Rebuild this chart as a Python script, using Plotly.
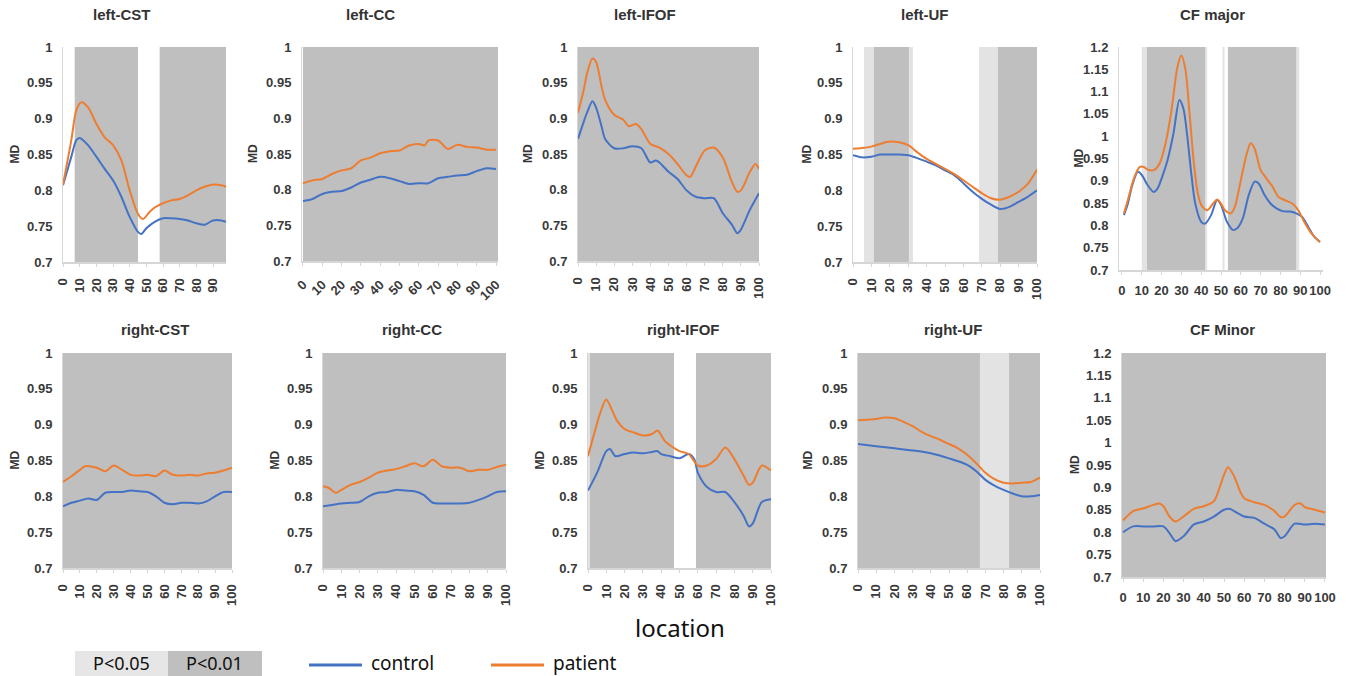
import plotly.graph_objects as go

W, H = 1346, 676

BLUE = "#4472C4"
ORANGE = "#ED7D31"
DARK = "#bfbfbf"
LIGHT = "#e3e3e3"
TXT = "#3a3a3a"

# ---------------- data ----------------
titles = ["left-CST", "left-CC", "left-IFOF", "left-UF", "CF major",
          "right-CST", "right-CC", "right-IFOF", "right-UF", "CF Minor"]

left_cst_ctrl_x = [0, 5, 8, 10, 15, 20, 25, 30, 35, 40, 45, 47, 50, 55, 60, 65, 70, 75, 80, 85, 90, 95, 98]
left_cst_ctrl = [0.807, 0.847, 0.870, 0.873, 0.863, 0.847, 0.830, 0.814, 0.791, 0.763, 0.742, 0.739, 0.747,
                 0.756, 0.761, 0.761, 0.760, 0.758, 0.754, 0.752, 0.758, 0.758, 0.756]
left_cst_pat_x = [0, 5, 8, 11, 15, 20, 25, 30, 35, 40, 45, 48, 52, 55, 60, 65, 70, 75, 80, 85, 90, 95, 98]
left_cst_pat = [0.808, 0.870, 0.912, 0.923, 0.916, 0.893, 0.874, 0.863, 0.842, 0.800, 0.767, 0.760, 0.770,
                0.776, 0.782, 0.786, 0.788, 0.793, 0.800, 0.805, 0.808, 0.807, 0.805]

left_cc_x = [0, 5, 10, 15, 20, 25, 30, 35, 40, 45, 50, 55, 60, 65, 70, 75, 80, 85, 90, 95, 100]
left_cc_ctrl = [0.784, 0.787, 0.794, 0.797, 0.798, 0.803, 0.810, 0.814, 0.818, 0.816, 0.812, 0.808, 0.809,
                0.809, 0.816, 0.818, 0.820, 0.821, 0.826, 0.830, 0.829]
left_cc_pat_x = [0, 5, 10, 15, 20, 25, 30, 35, 40, 45, 50, 55, 60, 63, 65, 70, 75, 80, 85, 90, 95, 100]
left_cc_pat = [0.809, 0.813, 0.815, 0.822, 0.827, 0.830, 0.841, 0.845, 0.851, 0.854, 0.855, 0.862, 0.864,
               0.862, 0.869, 0.869, 0.857, 0.863, 0.860, 0.859, 0.856, 0.856]

left_ifof_ctrl_x = [0, 3, 5, 8, 10, 13, 15, 20, 25, 30, 35, 40, 43, 45, 50, 55, 60, 65, 70, 75, 80, 85, 88, 90, 95, 100]
left_ifof_ctrl = [0.871, 0.894, 0.908, 0.924, 0.915, 0.889, 0.871, 0.858, 0.858, 0.861, 0.858, 0.838, 0.841,
                  0.838, 0.825, 0.815, 0.799, 0.790, 0.788, 0.788, 0.767, 0.751, 0.739, 0.744, 0.772, 0.795]
left_ifof_pat_x = [0, 3, 5, 8, 10, 13, 15, 20, 25, 28, 32, 35, 40, 45, 50, 55, 60, 62, 65, 70, 75, 80, 85, 88, 90, 95, 98, 100]
left_ifof_pat = [0.908, 0.938, 0.963, 0.984, 0.979, 0.945, 0.926, 0.905, 0.898, 0.889, 0.892, 0.885, 0.864,
                 0.859, 0.850, 0.836, 0.820, 0.818, 0.832, 0.855, 0.859, 0.845, 0.811, 0.797, 0.799, 0.825,
                 0.836, 0.829]

left_uf_x = [0, 5, 10, 15, 20, 25, 30, 35, 40, 45, 50, 55, 60, 65, 70, 75, 80, 85, 90, 95, 100]
left_uf_ctrl = [0.849, 0.846, 0.847, 0.850, 0.850, 0.850, 0.849, 0.845, 0.840, 0.835, 0.828, 0.821, 0.810,
                0.798, 0.788, 0.780, 0.774, 0.777, 0.784, 0.791, 0.800]
left_uf_pat = [0.858, 0.859, 0.861, 0.865, 0.868, 0.867, 0.863, 0.853, 0.844, 0.837, 0.830, 0.823, 0.814,
               0.805, 0.796, 0.789, 0.787, 0.791, 0.798, 0.809, 0.829]

cf_major_ctrl_x = [1, 3, 5, 8, 10, 13, 16, 18, 20, 23, 26, 29, 31, 33, 35, 37, 40, 42, 45, 48, 50, 53, 56, 58,
                   61, 64, 67, 69, 72, 75, 78, 81, 85, 88, 91, 94, 97, 100]
cf_major_ctrl = [0.823, 0.849, 0.887, 0.920, 0.913, 0.890, 0.875, 0.883, 0.905, 0.946, 1.006, 1.081, 1.062,
                 0.999, 0.916, 0.849, 0.808, 0.804, 0.823, 0.857, 0.846, 0.808, 0.790, 0.793, 0.816, 0.868,
                 0.898, 0.894, 0.868, 0.849, 0.838, 0.832, 0.831, 0.827, 0.819, 0.797, 0.775, 0.763]
cf_major_pat_x = [1, 3, 6, 9, 11, 13, 16, 19, 22, 25, 28, 30, 32, 34, 36, 38, 40, 43, 46, 48, 50, 52, 55, 57,
                  60, 63, 65, 67, 70, 73, 76, 79, 82, 86, 89, 92, 95, 98, 100]
cf_major_pat = [0.827, 0.857, 0.905, 0.931, 0.931, 0.925, 0.924, 0.939, 0.984, 1.058, 1.155, 1.181, 1.151,
                1.058, 0.954, 0.879, 0.846, 0.834, 0.849, 0.858, 0.849, 0.834, 0.827, 0.842, 0.901, 0.961,
                0.984, 0.972, 0.924, 0.905, 0.887, 0.864, 0.857, 0.849, 0.834, 0.808, 0.786, 0.771, 0.763]

right_cst_ctrl_x = [0, 5, 10, 15, 20, 25, 30, 35, 40, 45, 50, 55, 60, 65, 70, 75, 80, 85, 90, 95, 100]
right_cst_ctrl = [0.786, 0.791, 0.794, 0.797, 0.795, 0.805, 0.806, 0.806, 0.808, 0.807, 0.806, 0.800, 0.791,
                  0.789, 0.791, 0.791, 0.790, 0.793, 0.800, 0.806, 0.806]
right_cst_pat_x = [0, 5, 10, 13, 20, 25, 30, 35, 40, 45, 50, 55, 60, 65, 70, 75, 80, 85, 90, 95, 100]
right_cst_pat = [0.820, 0.828, 0.837, 0.842, 0.840, 0.835, 0.843, 0.837, 0.830, 0.829, 0.830, 0.828, 0.836,
                 0.830, 0.829, 0.830, 0.829, 0.832, 0.833, 0.836, 0.840]

right_cc_ctrl_x = [0, 5, 10, 15, 20, 25, 30, 35, 40, 45, 50, 55, 60, 65, 70, 75, 80, 85, 90, 95, 100]
right_cc_ctrl = [0.786, 0.788, 0.790, 0.791, 0.792, 0.800, 0.805, 0.806, 0.809, 0.808, 0.807, 0.802, 0.791,
                 0.790, 0.790, 0.790, 0.791, 0.795, 0.800, 0.806, 0.807]
right_cc_pat_x = [0, 3, 7, 10, 15, 20, 25, 30, 35, 40, 45, 50, 55, 60, 65, 70, 75, 80, 85, 90, 95, 100]
right_cc_pat = [0.814, 0.812, 0.805, 0.809, 0.816, 0.820, 0.826, 0.833, 0.836, 0.838, 0.842, 0.846, 0.842,
                0.851, 0.842, 0.840, 0.840, 0.835, 0.837, 0.837, 0.841, 0.844]

right_ifof_ctrl_x = [0, 5, 10, 12, 15, 20, 25, 30, 35, 38, 40, 45, 50, 55, 58, 60, 65, 70, 75, 80, 85, 88, 90, 95, 100]
right_ifof_ctrl = [0.808, 0.833, 0.863, 0.866, 0.856, 0.859, 0.861, 0.860, 0.862, 0.863, 0.859, 0.856, 0.853,
                   0.859, 0.852, 0.833, 0.813, 0.806, 0.806, 0.792, 0.773, 0.758, 0.762, 0.792, 0.796]
right_ifof_pat_x = [0, 3, 7, 10, 13, 16, 20, 25, 30, 35, 38, 42, 45, 50, 55, 60, 65, 70, 75, 80, 85, 88, 90, 95, 100]
right_ifof_pat = [0.856, 0.884, 0.919, 0.935, 0.921, 0.905, 0.894, 0.889, 0.885, 0.887, 0.892, 0.877, 0.871,
                  0.863, 0.859, 0.843, 0.843, 0.852, 0.868, 0.852, 0.829, 0.816, 0.819, 0.843, 0.836]

right_uf_ctrl_x = [0, 10, 20, 30, 40, 50, 60, 65, 70, 75, 80, 85, 90, 95, 100]
right_uf_ctrl = [0.873, 0.870, 0.867, 0.864, 0.860, 0.853, 0.844, 0.835, 0.823, 0.815, 0.809, 0.804, 0.800,
                 0.800, 0.802]
right_uf_pat_x = [0, 5, 10, 15, 20, 25, 30, 35, 40, 45, 50, 55, 60, 65, 70, 75, 80, 85, 90, 95, 100]
right_uf_pat = [0.906, 0.907, 0.908, 0.910, 0.909, 0.904, 0.898, 0.890, 0.884, 0.879, 0.873, 0.867, 0.858,
                0.846, 0.833, 0.824, 0.819, 0.818, 0.819, 0.820, 0.826]

cf_minor_ctrl_x = [0, 5, 10, 15, 20, 23, 26, 30, 35, 40, 45, 50, 53, 55, 60, 65, 70, 75, 78, 80, 85, 90, 95, 100]
cf_minor_ctrl = [0.800, 0.813, 0.813, 0.813, 0.813, 0.798, 0.780, 0.791, 0.817, 0.824, 0.835, 0.850, 0.852,
                 0.847, 0.835, 0.832, 0.819, 0.806, 0.787, 0.791, 0.819, 0.817, 0.819, 0.817]
cf_minor_pat_x = [0, 5, 10, 15, 18, 20, 23, 26, 30, 35, 40, 45, 48, 50, 52, 55, 58, 60, 65, 70, 75, 78, 80,
                  85, 88, 90, 95, 100]
cf_minor_pat = [0.826, 0.847, 0.853, 0.861, 0.864, 0.858, 0.835, 0.824, 0.835, 0.852, 0.858, 0.869, 0.902,
                0.928, 0.945, 0.925, 0.891, 0.876, 0.867, 0.861, 0.847, 0.834, 0.835, 0.861, 0.864, 0.856,
                0.850, 0.844]

# significance regions (location ranges): p<0.01 (dark) and p<0.05 (light)
p01 = [
    [(7, 45), (58, 98)],
    [(0, 101)],
    [(0, 100)],
    [(11.4, 30.4), (78.8, 100)],
    [(12.6, 42), (53.5, 88)],
    [(0, 100)],
    [(0, 100)],
    [(1, 47), (59, 100)],
    [(0, 67), (83, 100)],
    [(-0.5, 100.5)],
]
p05 = [
    [],
    [],
    [],
    [(6, 11.4), (30.4, 32.6), (68.5, 78.8)],
    [(10, 12.6), (42, 43), (50.8, 51.8), (88, 89.5)],
    [],
    [],
    [(0, 1)],
    [(67, 83)],
    [],
]

series = [
    (left_cst_ctrl_x, left_cst_ctrl, left_cst_pat_x, left_cst_pat),
    (left_cc_x, left_cc_ctrl, left_cc_pat_x, left_cc_pat),
    (left_ifof_ctrl_x, left_ifof_ctrl, left_ifof_pat_x, left_ifof_pat),
    (left_uf_x, left_uf_ctrl, left_uf_x, left_uf_pat),
    (cf_major_ctrl_x, cf_major_ctrl, cf_major_pat_x, cf_major_pat),
    (right_cst_ctrl_x, right_cst_ctrl, right_cst_pat_x, right_cst_pat),
    (right_cc_ctrl_x, right_cc_ctrl, right_cc_pat_x, right_cc_pat),
    (right_ifof_ctrl_x, right_ifof_ctrl, right_ifof_pat_x, right_ifof_pat),
    (right_uf_ctrl_x, right_uf_ctrl, right_uf_pat_x, right_uf_pat),
    (cf_minor_ctrl_x, cf_minor_ctrl, cf_minor_pat_x, cf_minor_pat),
]

y_ticks_md = [0.7, 0.75, 0.8, 0.85, 0.9, 0.95, 1.0]
y_text_md = ["0.7", "0.75", "0.8", "0.85", "0.9", "0.95", "1"]
y_ticks_cf = [0.7, 0.75, 0.8, 0.85, 0.9, 0.95, 1.0, 1.05, 1.1, 1.15, 1.2]
y_text_cf = ["0.7", "0.75", "0.8", "0.85", "0.9", "0.95", "1", "1.05", "1.1", "1.15", "1.2"]
x_ticks_90 = list(range(0, 91, 10))
x_ticks_100 = list(range(0, 101, 10))


def fx(p):
    return p / W


def fy(p):
    return 1 - p / H


# ---------------- layout (screen-pixel boxes) ----------------
# (left, right, top, bottom, xmin, xmax, tickangle, title_x, md_x)
boxes = [
    (63, 226, 47, 262, 0, 97.8, -90, 122, 15),
    (302, 498, 47, 261, -0.5, 101, -45, 370, 253),
    (578, 759, 47, 261, 0, 100, -90, 645, 528),
    (853, 1037, 47, 262, 0, 100, -90, 925, 807),
    (1119, 1323, 47, 270, -1.5, 101.5, 0, 1212, 1078),
    (63, 232, 353, 568, 0, 100, -90, 155, 15),
    (323, 506, 353, 568, 0, 100, -90, 412, 275),
    (588, 771, 353, 568, 0, 100, -90, 683, 540),
    (858, 1040, 353, 568, 0, 100, -90, 953, 808),
    (1122, 1326, 353, 577, -0.5, 100.5, 0, 1222, 1075),
]

fig = go.Figure()
layout = dict(
    template="none",
    width=W, height=H,
    margin=dict(l=0, r=0, t=0, b=0, pad=0, autoexpand=False),
    paper_bgcolor="white", plot_bgcolor="white",
    showlegend=False,
)
shapes = []
annotations = []

tickfont = dict(family="Liberation Sans", size=13, color=TXT, weight="bold")

for i, (l, r, t, b, x0, x1, ang, tx, mdx) in enumerate(boxes):
    k = i + 1
    xa = "x" if k == 1 else f"x{k}"
    ya = "y" if k == 1 else f"y{k}"
    cf = i in (4, 9)
    cx, cc, px, pc = series[i]
    fig.add_trace(go.Scatter(x=cx, y=cc, mode="lines", name="control",
                             line=dict(color=BLUE, width=2, shape="spline", smoothing=0.8),
                             xaxis=xa, yaxis=ya))
    fig.add_trace(go.Scatter(x=px, y=pc, mode="lines", name="patient",
                             line=dict(color=ORANGE, width=2, shape="spline", smoothing=0.8),
                             xaxis=xa, yaxis=ya))
    xt = x_ticks_90 if i == 0 else x_ticks_100
    layout["xaxis" if k == 1 else f"xaxis{k}"] = dict(
        domain=[fx(l), fx(r)], range=[x0, x1], anchor=ya, automargin=False,
        tickmode="array", tickvals=xt, ticktext=[str(v) for v in xt],
        tickangle=ang, tickfont=tickfont, showgrid=False, zeroline=False,
        showline=True, linecolor="#d6d6d6", linewidth=2,
        ticks="outside", ticklen=3, tickcolor="#d6d6d6",
        ticklabelstandoff=4 if ang == 0 else 6,
    )
    yt = y_ticks_cf if cf else y_ticks_md
    ytt = y_text_cf if cf else y_text_md
    layout["yaxis" if k == 1 else f"yaxis{k}"] = dict(
        domain=[fy(b), fy(t)], range=[0.7, 1.2] if cf else [0.7, 1.0], anchor=xa,
        automargin=False,
        tickmode="array", tickvals=yt, ticktext=ytt, tickfont=tickfont,
        showgrid=False, zeroline=False, showline=True, linecolor="#d6d6d6", linewidth=1,
        ticks="", ticklabelstandoff=7,
    )
    for (a, c) in p05[i]:
        shapes.append(dict(type="rect", xref=xa, yref=f"{ya} domain", x0=a, x1=c, y0=0, y1=1,
                           fillcolor=LIGHT, line=dict(width=0), layer="below"))
    for (a, c) in p01[i]:
        shapes.append(dict(type="rect", xref=xa, yref=f"{ya} domain", x0=a, x1=c, y0=0, y1=1,
                           fillcolor=DARK, line=dict(width=0), layer="below"))
    ty = 15 if i < 5 else 330
    annotations.append(dict(text=titles[i], xref="paper", yref="paper", x=fx(tx), y=fy(ty),
                            xanchor="center", yanchor="middle", showarrow=False,
                            font=dict(family="Liberation Sans", size=15, color="#333333", weight="bold")))
    annotations.append(dict(text="MD", xref="paper", yref="paper", x=fx(mdx), y=fy((t + b) / 2),
                            xanchor="center", yanchor="middle", showarrow=False, textangle=-90,
                            font=dict(family="Liberation Sans", size=12, color="#333333", weight="bold")))

# axis caption
annotations.append(dict(text="location", xref="paper", yref="paper", x=fx(680), y=fy(627),
                        xanchor="center", yanchor="middle", showarrow=False,
                        font=dict(family="Noto Sans", size=24, color="#111111")))

# significance legend boxes
shapes.append(dict(type="rect", xref="paper", yref="paper", x0=fx(75), x1=fx(168), y0=fy(676), y1=fy(651),
                   fillcolor="#e6e6e6", line=dict(width=0)))
shapes.append(dict(type="rect", xref="paper", yref="paper", x0=fx(168), x1=fx(262), y0=fy(676), y1=fy(651),
                   fillcolor="#bfbfbf", line=dict(width=0)))
annotations.append(dict(text="P<0.05", xref="paper", yref="paper", x=fx(121), y=fy(663),
                        xanchor="center", yanchor="middle", showarrow=False,
                        font=dict(family="Noto Sans", size=18, color="#111111")))
annotations.append(dict(text="P<0.01", xref="paper", yref="paper", x=fx(215), y=fy(663),
                        xanchor="center", yanchor="middle", showarrow=False,
                        font=dict(family="Noto Sans", size=18, color="#111111")))
# series legend
shapes.append(dict(type="line", xref="paper", yref="paper", x0=fx(309), x1=fx(362),
                   y0=fy(665), y1=fy(665), line=dict(color=BLUE, width=3)))
shapes.append(dict(type="line", xref="paper", yref="paper", x0=fx(491), x1=fx(544),
                   y0=fy(665), y1=fy(665), line=dict(color=ORANGE, width=3)))
annotations.append(dict(text="control", xref="paper", yref="paper", x=fx(369), y=fy(663),
                        xanchor="left", yanchor="middle", showarrow=False,
                        font=dict(family="Noto Sans", size=19, color="#111111")))
annotations.append(dict(text="patient", xref="paper", yref="paper", x=fx(551), y=fy(663),
                        xanchor="left", yanchor="middle", showarrow=False,
                        font=dict(family="Noto Sans", size=19, color="#111111")))

layout["shapes"] = shapes
layout["annotations"] = annotations
fig.update_layout(**layout)
fig.write_html("out.html", config={"displayModeBar": False},
               post_script="document.body.style.margin='0';document.body.style.overflow='hidden';")
